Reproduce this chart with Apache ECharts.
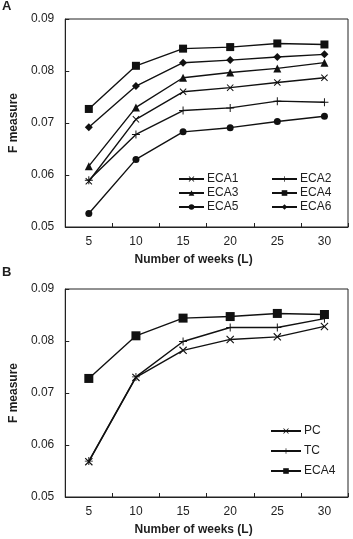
<!DOCTYPE html>
<html>
<head>
<meta charset="utf-8">
<script src="https://cdn.jsdelivr.net/npm/echarts@6/dist/echarts.min.js"></script>
<style>
html,body{margin:0;padding:0;background:#fff;}
#c{width:353px;height:539px;}
</style>
</head>
<body>
<div id="c"></div>
<script>
const weeks = ['5', '10', '15', '20', '25', '30'];
const yTicks = [0.05, 0.06, 0.07, 0.08, 0.09];
// Panel A
const eca1 = [0.0588, 0.0707, 0.0760, 0.0768, 0.0778, 0.0787];
const eca2 = [0.0590, 0.0678, 0.0724, 0.0729, 0.0742, 0.0740];
const eca3 = [0.0617, 0.0730, 0.0787, 0.0797, 0.0805, 0.0816];
const eca4 = [0.0727, 0.0810, 0.0843, 0.0846, 0.0853, 0.0851];
const eca5 = [0.0526, 0.0630, 0.0683, 0.0691, 0.0703, 0.0713];
const eca6 = [0.0692, 0.0771, 0.0816, 0.0821, 0.0827, 0.0832];
// Panel B
const pcB = [0.0568, 0.0730, 0.0782, 0.0803, 0.0808, 0.0828];
const tcB = [0.0569, 0.0731, 0.0799, 0.0826, 0.0826, 0.0843];
const eca4B = [0.0728, 0.0810, 0.0844, 0.0847, 0.0853, 0.0851];

const crossPath = 'path://M0,1 L1,0 L10,9 L9,10 Z M9,0 L10,1 L1,10 L0,9 Z';
const plusPath = 'path://M0,4.4 L10,4.4 L10,5.6 L0,5.6 Z M4.4,0 L5.6,0 L5.6,10 L4.4,10 Z';

const FONT = 'Liberation Sans, Arial, sans-serif';
const TXT = '#1e1e1e';

function mkX(i) {
  return {
    gridIndex: i, type: 'category', data: weeks, boundaryGap: true,
    axisLine: {show: true, lineStyle: {color: '#222', width: 1}},
    axisTick: {show: true, inside: true, length: 4, alignWithLabel: false, lineStyle: {color: '#222'}},
    axisLabel: {fontSize: 12, color: TXT, fontFamily: FONT, margin: 9},
    splitLine: {show: false},
    name: 'Number of weeks (L)', nameLocation: 'middle', nameGap: 27,
    nameTextStyle: {fontSize: 12, fontWeight: 'bold', color: TXT, fontFamily: FONT, padding: [0, 26, 0, 0]}
  };
}
function mkY(i) {
  return {
    gridIndex: i, type: 'value', min: yTicks[0], max: yTicks[yTicks.length - 1], interval: 0.01,
    axisLine: {show: true, lineStyle: {color: '#222', width: 1}},
    axisTick: {show: true, inside: true, length: 4, lineStyle: {color: '#222'}},
    axisLabel: {fontSize: 12, color: TXT, fontFamily: FONT, margin: 11, formatter: v => v.toFixed(2)},
    splitLine: {show: false},
    name: 'F measure', nameLocation: 'middle', nameGap: 38,
    nameTextStyle: {fontSize: 12, fontWeight: 'bold', color: TXT, fontFamily: FONT}
  };
}
function mkS(name, data, symbol, size, gi) {
  return {
    name: name, type: 'line', data: data, xAxisIndex: gi, yAxisIndex: gi,
    symbol: symbol, symbolSize: size, showSymbol: true,
    lineStyle: {color: '#111', width: 1.4},
    itemStyle: {color: '#111', borderWidth: 0},
    emphasis: {disabled: true}, animation: false, z: 3
  };
}

const legendBase = {
  orient: 'vertical', itemWidth: 25, itemHeight: 7, icon: undefined,
  textStyle: {fontSize: 12, color: TXT, fontFamily: FONT, padding: [0, 0, 0, -2]},
  selectedMode: false
};

const chart = echarts.init(document.getElementById('c'), null, {renderer: 'canvas'});
chart.setOption({
  animation: false,
  backgroundColor: '#fff',
  grid: [
    {left: 54, right: 5, top: 19, height: 208, show: true, borderColor: '#222', borderWidth: 1, backgroundColor: 'transparent'},
    {left: 54, right: 5, top: 289, height: 208, show: true, borderColor: '#222', borderWidth: 1, backgroundColor: 'transparent'}
  ],
  xAxis: [mkX(0), mkX(1)],
  yAxis: [mkY(0), mkY(1)],
  legend: [
    Object.assign({}, legendBase, {data: ['ECA1', 'ECA3', 'ECA5'], left: 173, top: 168, itemGap: 2}),
    Object.assign({}, legendBase, {data: ['ECA2', 'ECA4', 'ECA6'], left: 266, top: 168, itemGap: 2}),
    Object.assign({}, legendBase, {data: ['PC', 'TC', {name: 'ECA4'}], left: 265, top: 420, itemGap: 8, itemWidth: 30})
  ],
  graphic: [
    {type: 'text', left: 2, top: 0, style: {text: 'A', font: 'bold 13px ' + FONT, fill: TXT}},
    {type: 'text', left: 2, top: 266, style: {text: 'B', font: 'bold 13px ' + FONT, fill: TXT}}
  ],
  series: [
    mkS('ECA1', eca1, crossPath, 7, 0),
    mkS('ECA2', eca2, plusPath, 8, 0),
    mkS('ECA3', eca3, 'triangle', 8, 0),
    mkS('ECA4', eca4, 'rect', 8, 0),
    mkS('ECA5', eca5, 'circle', 7, 0),
    mkS('ECA6', eca6, 'diamond', 8, 0),
    mkS('PC', pcB, crossPath, 8, 1),
    mkS('TC', tcB, plusPath, 8, 1),
    mkS('ECA4', eca4B, 'rect', 9, 1)
  ]
});
</script>
</body>
</html>
